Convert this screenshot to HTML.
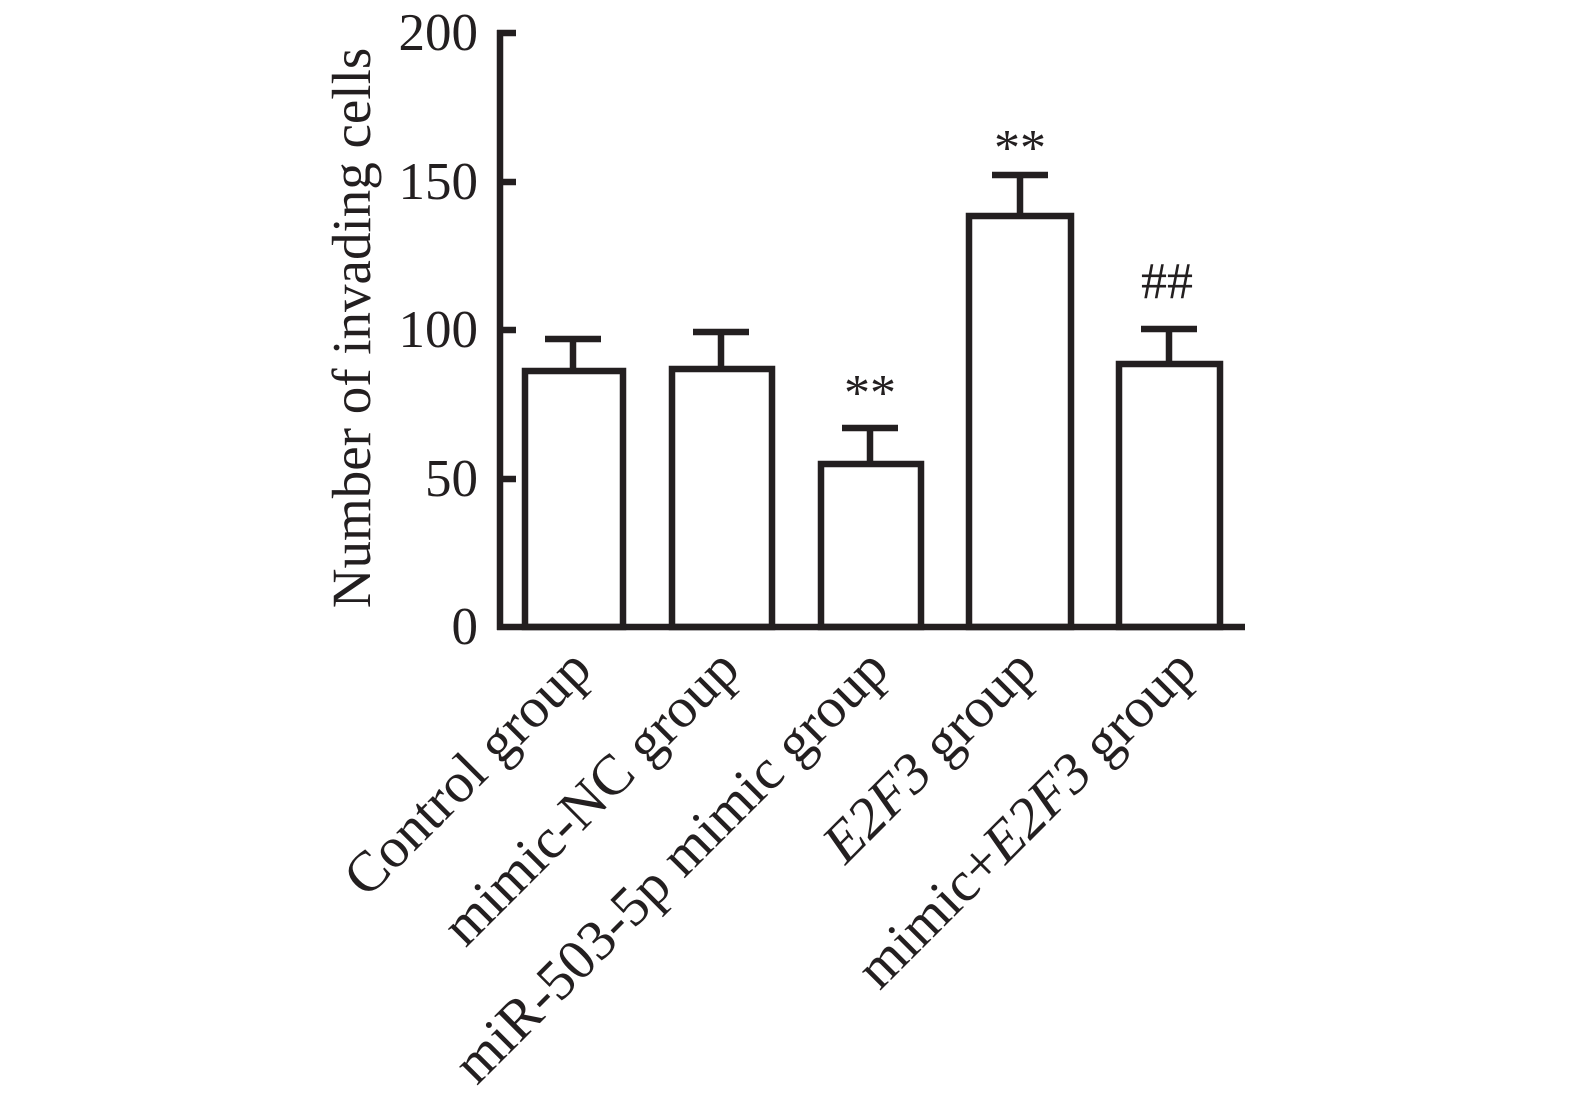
<!DOCTYPE html>
<html><head><style>body{margin:0;background:#fff}svg{display:block}</style></head><body>
<svg width="1575" height="1093" viewBox="0 0 1575 1093" xmlns="http://www.w3.org/2000/svg" font-family="Liberation Serif, serif" fill="#231f20">
<g stroke="#231f20" stroke-width="6.5" fill="none" stroke-linecap="butt">
<line x1="500" y1="30" x2="500" y2="630"/>
<line x1="497" y1="627" x2="1245" y2="627"/>
<line x1="497" y1="33" x2="516" y2="33"/>
<line x1="500" y1="182" x2="516" y2="182"/>
<line x1="500" y1="330" x2="516" y2="330"/>
<line x1="500" y1="479" x2="516" y2="479"/>
<rect x="525" y="371" width="98" height="256"/>
<line x1="573" y1="371" x2="573" y2="339"/><line x1="545" y1="339" x2="601" y2="339"/>
<rect x="672" y="369" width="100" height="258"/>
<line x1="721" y1="369" x2="721" y2="332"/><line x1="693" y1="332" x2="749" y2="332"/>
<rect x="821" y="464" width="100" height="163"/>
<line x1="870" y1="464" x2="870" y2="428"/><line x1="842" y1="428" x2="898" y2="428"/>
<rect x="969" y="216" width="102" height="411"/>
<line x1="1020" y1="216" x2="1020" y2="175"/><line x1="992" y1="175" x2="1048" y2="175"/>
<rect x="1119" y="364" width="101" height="263"/>
<line x1="1169" y1="364" x2="1169" y2="329"/><line x1="1141" y1="329" x2="1197" y2="329"/>
</g>
<g font-size="53" text-anchor="end">
<text x="478" y="50">200</text><text x="478" y="199">150</text><text x="478" y="347">100</text><text x="478" y="496">50</text><text x="478" y="644">0</text>
</g>
<text transform="translate(370,328) rotate(-90)" font-size="55" text-anchor="middle">Number of invading cells</text>
<g font-size="52" text-anchor="middle">
<text x="870" y="410">**</text><text x="1020" y="165">**</text><text x="1167" y="298">##</text>
</g>
<g font-size="57" text-anchor="end">
<text transform="translate(594,672) rotate(-45)">Control group</text>
<text transform="translate(742,672) rotate(-45)">mimic-NC group</text>
<text transform="translate(891,672) rotate(-45)">miR-503-5p mimic group</text>
<text transform="translate(1039,672) rotate(-45)"><tspan font-style="italic">E2F3</tspan> group</text>
<text transform="translate(1199,672) rotate(-45)">mimic+<tspan font-style="italic">E2F3</tspan> group</text>
</g>
</svg>
</body></html>
